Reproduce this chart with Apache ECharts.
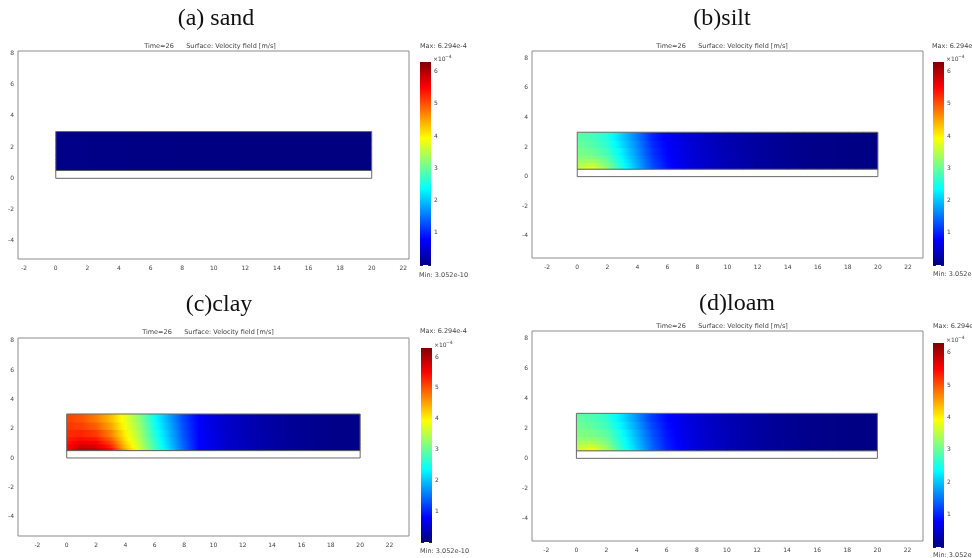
<!DOCTYPE html>
<html><head><meta charset="utf-8">
<script src="https://cdn.jsdelivr.net/npm/echarts@6/dist/echarts.min.js"></script>
<style>html,body{margin:0;padding:0;background:#fff}#c{width:972px;height:558px}</style>
</head><body><div id="c"></div><script>
// ---- data (velocity in 1e-4 m/s) ----
const panelTitles = ['(a) sand', '(b)silt', '(c)clay', '(d)loam'];
const subTitle = 'Time=26      Surface: Velocity field [m/s]';
const cbMin = 3.052e-6;   // 3.052e-10 m/s in 1e-4 units
const cbMax = 6.294;      // 6.294e-4 m/s
const maxLabel = 'Max: 6.294e-4';
const minLabel = 'Min: 3.052e-10';
const xNodes = [0,1,2,3,4,5,6,7,8,9,10,11,12,13,14,15,16,17,18,19,20];
const yBands = [0.5, 0.75, 1.0, 1.25, 1.5, 2.0, 2.5, 3.0];
const domainOutline = [[0,0],[20,0],[20,3],[0,3],[0,0]];
const stripLine = [[0,0.5],[20,0.5]];

const sandRow = [0.06,0.05,0.05,0.04,0.04,0.03,0.03,0.03,0.02,0.02,0.02,0.02,0.01,0.01,0.01,0.01,0.01,0.01,0.01,0.01,0.01];
const sandBands = [sandRow, sandRow, sandRow, sandRow, sandRow, sandRow, sandRow];

const siltBands = [
 [3.55,3.8,3.25,2.52,1.9,1.28,0.89,0.66,0.52,0.42,0.33,0.26,0.2,0.16,0.12,0.09,0.06,0.05,0.04,0.03,0.03],
 [3.42,3.55,3.12,2.45,1.85,1.24,0.86,0.65,0.52,0.41,0.33,0.26,0.2,0.16,0.12,0.09,0.06,0.05,0.04,0.03,0.03],
 [3.3,3.35,3.0,2.38,1.8,1.2,0.84,0.64,0.51,0.41,0.32,0.26,0.2,0.15,0.11,0.08,0.06,0.05,0.04,0.03,0.03],
 [3.2,3.18,2.9,2.32,1.75,1.16,0.82,0.63,0.5,0.4,0.32,0.25,0.2,0.15,0.11,0.08,0.06,0.05,0.04,0.03,0.03],
 [3.1,3.02,2.76,2.24,1.69,1.11,0.79,0.62,0.49,0.4,0.31,0.25,0.19,0.15,0.11,0.08,0.06,0.05,0.04,0.03,0.03],
 [3.0,2.88,2.63,2.13,1.62,1.05,0.76,0.6,0.48,0.39,0.31,0.25,0.19,0.15,0.11,0.08,0.06,0.05,0.04,0.03,0.03],
 [2.92,2.8,2.55,2.05,1.55,1.0,0.72,0.58,0.47,0.38,0.3,0.24,0.19,0.15,0.11,0.08,0.06,0.05,0.04,0.03,0.03]
];
const clayBands = [
 [5.55,5.95,5.9,5.5,4.45,3.62,2.82,2.1,1.4,0.8,0.62,0.48,0.38,0.3,0.23,0.17,0.13,0.1,0.07,0.05,0.05],
 [5.48,5.8,5.72,5.3,4.32,3.56,2.76,2.05,1.37,0.8,0.61,0.47,0.38,0.3,0.23,0.17,0.13,0.1,0.07,0.05,0.05],
 [5.4,5.62,5.52,5.1,4.2,3.5,2.7,2.0,1.35,0.8,0.61,0.47,0.37,0.29,0.22,0.17,0.13,0.1,0.07,0.05,0.05],
 [5.33,5.45,5.35,4.92,4.1,3.44,2.64,1.97,1.32,0.79,0.6,0.46,0.37,0.29,0.22,0.16,0.12,0.09,0.07,0.05,0.05],
 [5.25,5.3,5.15,4.72,4.0,3.37,2.57,1.92,1.28,0.78,0.6,0.46,0.37,0.29,0.22,0.16,0.12,0.09,0.07,0.05,0.05],
 [5.17,5.12,4.92,4.5,3.88,3.28,2.48,1.86,1.24,0.77,0.59,0.46,0.36,0.28,0.21,0.16,0.12,0.09,0.07,0.05,0.05],
 [5.1,5.0,4.75,4.35,3.8,3.2,2.42,1.8,1.2,0.76,0.58,0.45,0.36,0.28,0.21,0.16,0.12,0.09,0.07,0.05,0.05]
];
const loamBands = [
 [3.6,3.9,3.4,2.68,2.07,1.46,1.0,0.73,0.57,0.45,0.36,0.28,0.22,0.17,0.13,0.1,0.07,0.05,0.04,0.03,0.03],
 [3.47,3.65,3.27,2.6,2.02,1.42,0.98,0.72,0.56,0.45,0.35,0.28,0.22,0.17,0.13,0.1,0.07,0.05,0.04,0.03,0.03],
 [3.35,3.45,3.15,2.55,1.98,1.39,0.96,0.71,0.56,0.44,0.35,0.28,0.22,0.17,0.13,0.1,0.07,0.05,0.04,0.03,0.03],
 [3.25,3.27,3.05,2.5,1.94,1.36,0.94,0.7,0.55,0.44,0.35,0.27,0.21,0.16,0.12,0.09,0.07,0.05,0.04,0.03,0.03],
 [3.15,3.1,2.93,2.43,1.88,1.31,0.91,0.69,0.54,0.43,0.34,0.27,0.21,0.16,0.12,0.09,0.07,0.05,0.04,0.03,0.03],
 [3.05,2.95,2.76,2.3,1.79,1.23,0.87,0.67,0.53,0.42,0.34,0.27,0.21,0.16,0.12,0.09,0.07,0.05,0.04,0.03,0.03],
 [2.97,2.86,2.66,2.2,1.7,1.15,0.83,0.64,0.52,0.41,0.33,0.26,0.2,0.16,0.12,0.09,0.07,0.05,0.04,0.03,0.03]
];
const fieldBands = [sandBands, siltBands, clayBands, loamBands];

// ---- layout (positions / styles) ----
const layout = [
 {grid:{left:18,top:51,width:391,height:208}, x:[-2.39,22.36], y:[-5.17,8.16], cb:{left:420,top:62,width:11,height:203},
  title:[216,19], sub:[210,46], max:[420,46], min:[419,275]},
 {grid:{left:532,top:51,width:391,height:207}, x:[-3.01,23.0], y:[-5.5,8.49], cb:{left:933,top:62,width:11,height:203},
  title:[722,19], sub:[722,46], max:[932,46], min:[933,274]},
 {grid:{left:18,top:338,width:391,height:198}, x:[-3.32,23.33], y:[-5.32,8.18], cb:{left:421,top:348,width:11,height:194},
  title:[219,305], sub:[208,332], max:[420,331], min:[420,551]},
 {grid:{left:532,top:331,width:391,height:210}, x:[-2.95,23.03], y:[-5.51,8.49], cb:{left:933,top:343,width:11,height:204},
  title:[737,304], sub:[722,326], max:[933,326], min:[933,555]}
];

function jet(v){
  const t = Math.max(0, Math.min(1, (v - cbMin) / (cbMax - cbMin)));
  const c = x => Math.round(255 * Math.max(0, Math.min(1, x)));
  return 'rgb(' + c(1.5 - Math.abs(4*t - 3)) + ',' + c(1.5 - Math.abs(4*t - 2)) + ',' + c(1.5 - Math.abs(4*t - 1)) + ')';
}
const jetStops = [0, 0.125, 0.375, 0.625, 0.875, 1].map(f => ({offset: f, color: jet(cbMin + f * (cbMax - cbMin))}));
const xLast = xNodes[xNodes.length - 1], yFirst = yBands[0];

function renderCell(params, api){
  const x0 = api.value(0), x1 = api.value(1), y0 = api.value(2), y1 = api.value(3);
  const v0 = api.value(4), v1 = api.value(5);
  const p0 = api.coord([x0, y1]), p1 = api.coord([x1, y0]);
  const ow = x1 < xLast ? 1.2 : 0, oh = y0 > yFirst ? 1.2 : 0;
  const w = p1[0] - p0[0];
  const stops = [0, 0.25, 0.5, 0.75, 1].map(f => ({offset: f * w / (w + ow), color: jet(v0 + (v1 - v0) * f)}));
  stops.push({offset: 1, color: jet(v1)});
  return {type: 'rect', shape: {x: p0[0], y: p0[1], width: w + ow, height: p1[1] - p0[1] + oh},
    style: {fill: new echarts.graphic.LinearGradient(0, 0, 1, 0, stops), lineWidth: 0}};
}

const smallFont = {fontSize: 6, color: '#444', fontFamily: 'DejaVu Sans'};
const grids = [], xAxes = [], yAxes = [], series = [], graphics = [];

layout.forEach((L, i) => {
  const gi = grids.length;
  grids.push(Object.assign({show: true, borderColor: '#8c8c8c', borderWidth: 1, backgroundColor: '#fff'}, L.grid));
  const xi = xAxes.length, yi = yAxes.length;
  xAxes.push({type: 'value', gridIndex: gi, min: L.x[0], max: L.x[1], minInterval: 2, maxInterval: 2,
    axisLine: {show: false}, axisTick: {show: false}, splitLine: {show: false},
    axisLabel: Object.assign({margin: 6, formatter: v => (Math.abs(v % 2) < 1e-6 ? String(v) : '')}, smallFont)});
  yAxes.push({type: 'value', gridIndex: gi, min: L.y[0], max: L.y[1], minInterval: 2, maxInterval: 2,
    axisLine: {show: false}, axisTick: {show: false}, splitLine: {show: false},
    axisLabel: Object.assign({margin: 4, formatter: v => (Math.abs(v % 2) < 1e-6 ? String(v) : '')}, smallFont)});
  const cells = [];
  fieldBands[i].forEach((row, j) => {
    for (let k = 0; k < xNodes.length - 1; k++) {
      cells.push([xNodes[k], xNodes[k+1], yBands[j], yBands[j+1], row[k], row[k+1]]);
    }
  });
  series.push({type: 'custom', xAxisIndex: xi, yAxisIndex: yi, renderItem: renderCell, data: cells,
    encode: {x: [0, 1], y: [2, 3]}, silent: true, z: 2});
  series.push({type: 'line', xAxisIndex: xi, yAxisIndex: yi, data: domainOutline, symbol: 'none',
    lineStyle: {color: '#6a6a6a', width: 1}, z: 3, silent: true});
  series.push({type: 'line', xAxisIndex: xi, yAxisIndex: yi, data: stripLine, symbol: 'none',
    lineStyle: {color: '#5a5a5a', width: 1}, z: 3, silent: true});

  const ci = grids.length;
  grids.push(Object.assign({show: false}, L.cb));
  const cxi = xAxes.length;
  xAxes.push({type: 'category', gridIndex: ci, data: ['v'], show: false});
  const cyR = yAxes.length;
  yAxes.push({type: 'value', gridIndex: ci, position: 'right', min: 0, max: cbMax, interval: 1,
    axisLine: {show: false}, splitLine: {show: false},
    axisTick: {show: true, inside: true, length: 3, lineStyle: {color: '#222'}},
    axisLabel: Object.assign({margin: 3, formatter: v => (v >= 1 && v <= 6 && Math.abs(v % 1) < 1e-6 ? String(v) : '')}, smallFont)});
  yAxes.push({type: 'value', gridIndex: ci, position: 'left', min: 0, max: cbMax, interval: 1,
    axisLine: {show: false}, splitLine: {show: false}, axisLabel: {show: false},
    axisTick: {show: true, inside: true, length: 3, lineStyle: {color: '#222'}}});
  series.push({type: 'bar', xAxisIndex: cxi, yAxisIndex: cyR, data: [cbMax], barWidth: '100%', silent: true,
    itemStyle: {color: new echarts.graphic.LinearGradient(0, 1, 0, 0, jetStops)}, z: 1});

  graphics.push({type: 'text', x: L.title[0], y: L.title[1], style: {text: panelTitles[i], textAlign: 'center', textVerticalAlign: 'middle',
    font: '24px "Liberation Serif"', fill: '#111'}});
  graphics.push({type: 'text', x: L.sub[0], y: L.sub[1], style: {text: subTitle, textAlign: 'center', textVerticalAlign: 'middle',
    font: '6.5px "DejaVu Sans"', fill: '#444'}});
  graphics.push({type: 'text', x: L.max[0], y: L.max[1], style: {text: maxLabel, textAlign: 'left', textVerticalAlign: 'middle',
    font: '6.5px "DejaVu Sans"', fill: '#444'}});
  graphics.push({type: 'text', x: L.min[0], y: L.min[1], style: {text: minLabel, textAlign: 'left', textVerticalAlign: 'middle',
    font: '6.5px "DejaVu Sans"', fill: '#444'}});
  graphics.push({type: 'text', x: L.cb.left + L.cb.width + 2, y: L.cb.top - 3, style: {text: '×10', textAlign: 'left', textVerticalAlign: 'middle',
    font: '6px "DejaVu Sans"', fill: '#444'}});
  graphics.push({type: 'text', x: L.cb.left + L.cb.width + 14, y: L.cb.top - 5, style: {text: '−4', textAlign: 'left', textVerticalAlign: 'middle',
    font: '4.5px "DejaVu Sans"', fill: '#444'}});
});

const chart = echarts.init(document.getElementById('c'), null, {renderer: 'canvas'});
chart.setOption({
  animation: false,
  backgroundColor: '#fff',
  grid: grids, xAxis: xAxes, yAxis: yAxes, series: series, graphic: graphics
});
</script></body></html>
